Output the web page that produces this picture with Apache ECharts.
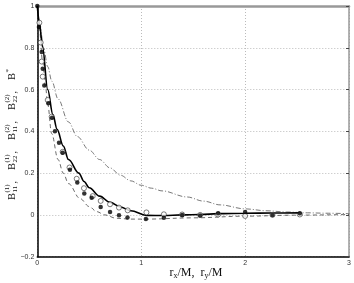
<!DOCTYPE html>
<html><head><meta charset="utf-8">
<script src="https://cdn.jsdelivr.net/npm/echarts@6/dist/echarts.min.js"></script>
<style>html,body{margin:0;padding:0;background:#fff}#c{width:354px;height:283px}</style>
</head><body><div id="c"></div>
<script>
// ---- data ----
var xTicks = [0, 1, 2, 3];
var yTicks = [-0.2, 0, 0.2, 0.4, 0.6, 0.8, 1];

var solidX = [0, 0.02, 0.05, 0.1, 0.15, 0.19, 0.25, 0.3, 0.4, 0.45, 0.5, 0.6, 0.7, 0.8, 0.9, 1.05, 1.22, 1.39, 1.57, 1.74, 2.0, 2.26, 2.53];
var solidY = [1, 0.92, 0.805, 0.6, 0.48, 0.41, 0.33, 0.265, 0.2, 0.16, 0.13, 0.09, 0.06, 0.038, 0.02, -0.002, -0.003, 0.0, 0.002, 0.006, 0.008, 0.009, 0.01];

var dashX = [0, 0.02, 0.05, 0.08, 0.1, 0.138, 0.2, 0.25, 0.3, 0.41, 0.5, 0.57, 0.65, 0.76, 0.9, 1.05, 1.5, 2.0, 2.5, 3.0];
var dashY = [1, 0.89, 0.74, 0.61, 0.53, 0.39, 0.265, 0.2, 0.15, 0.079, 0.04, 0.016, 0.0, -0.016, -0.02, -0.02, -0.014, -0.006, -0.001, 0.002];

var dashDotX = [0, 0.03, 0.06, 0.1, 0.14, 0.2, 0.3, 0.385, 0.5, 0.6, 0.7, 0.8, 0.9, 1.0, 1.1, 1.2, 1.44, 1.6, 1.76, 2.0, 2.2, 2.4, 2.6, 2.8, 3.0];
var dashDotY = [1, 0.89, 0.8, 0.71, 0.64, 0.555, 0.445, 0.375, 0.31, 0.265, 0.225, 0.19, 0.163, 0.142, 0.128, 0.115, 0.086, 0.066, 0.048, 0.029, 0.02, 0.014, 0.01, 0.008, 0.006];

var filledX = [0, 0.016, 0.042, 0.052, 0.067, 0.106, 0.142, 0.17, 0.209, 0.244, 0.314, 0.385, 0.452, 0.523, 0.61, 0.70, 0.786, 0.868, 1.045, 1.218, 1.394, 1.567, 1.74, 2.0, 2.263, 2.526];
var filledY = [1.0, 0.90, 0.78, 0.70, 0.62, 0.534, 0.465, 0.40, 0.345, 0.297, 0.216, 0.155, 0.103, 0.082, 0.038, 0.014, -0.002, -0.012, -0.019, -0.013, 0.0, -0.003, 0.008, 0.014, 0.0, 0.008];

var openX = [0.02, 0.033, 0.042, 0.052, 0.1, 0.138, 0.244, 0.31, 0.379, 0.449, 0.533, 0.61, 0.70, 0.786, 0.87, 1.05, 1.218, 1.394, 1.567, 1.74, 2.0, 2.263, 2.526];
var openY = [0.92, 0.825, 0.734, 0.662, 0.55, 0.47, 0.302, 0.227, 0.173, 0.128, 0.09, 0.067, 0.051, 0.035, 0.022, 0.012, 0.003, 0.002, 0.0, 0.002, -0.005, 0.0, 0.002];

function zip(a, b) { return a.map(function (v, i) { return [v, b[i]]; }); }

var serif = 'Liberation Serif';
var chart = echarts.init(document.getElementById('c'), null, {renderer: 'canvas'});

function fmtY(v) {
  var r = Math.round(v * 10) / 10;
  if (Math.abs(r) < 1e-9) return '0';
  if (r === 1) return '1';
  var s = Math.abs(r).toFixed(1);
  return (r < 0 ? '\u2212' : '') + s;
}

// y-axis title pieces
var yTitleChildren = [];
var groups = [['(1)', '11'], ['(1)', '22'], ['(2)', '11'], ['(2)', '22']];
var step = 30;
groups.forEach(function (g, i) {
  var x0 = i * step;
  yTitleChildren.push({type: 'text', x: x0, y: 0, style: {text: 'B', font: '10.5px ' + serif, fill: '#111', verticalAlign: 'middle'}});
  yTitleChildren.push({type: 'text', x: x0 + 7.5, y: -4.5, style: {text: g[0], font: '7px ' + serif, fill: '#111', verticalAlign: 'middle'}});
  yTitleChildren.push({type: 'text', x: x0 + 7.5, y: 3.5, style: {text: g[1], font: '7px ' + serif, fill: '#111', verticalAlign: 'middle'}});
  yTitleChildren.push({type: 'text', x: x0 + 16.5, y: 1, style: {text: ',', font: '10px ' + serif, fill: '#111', verticalAlign: 'middle'}});
});
yTitleChildren.push({type: 'text', x: 4 * step, y: 0, style: {text: 'B', font: '10.5px ' + serif, fill: '#111', verticalAlign: 'middle'}});
yTitleChildren.push({type: 'text', x: 4 * step + 7.5, y: -3.5, style: {text: '*', font: '7px ' + serif, fill: '#111', verticalAlign: 'middle'}});

var lineCommon = {smooth: 0.35, smoothMonotone: 'x', showSymbol: false};

var option = {
  animation: false,
  backgroundColor: '#fff',
  grid: {left: 37.3, right: 4.7, top: 6, bottom: 26.3, containLabel: false},
  xAxis: [{
    type: 'value', min: 0, max: 3, interval: 1, position: 'bottom',
    axisLine: {show: true, onZero: false, lineStyle: {color: '#000', width: 1.5}},
    axisTick: {show: false},
    axisLabel: {show: true, fontSize: 7, color: '#333', margin: 3, fontFamily: 'Liberation Sans'},
    splitLine: {show: true, lineStyle: {color: '#bbb', width: 1, type: [1, 2]}}
  }, {
    type: 'value', min: 0, max: 3, interval: 1, position: 'top',
    axisLine: {show: true, onZero: false, lineStyle: {color: '#999', width: 2.5}},
    axisTick: {show: false}, axisLabel: {show: false}, splitLine: {show: false}
  }],
  yAxis: [{
    type: 'value', min: -0.2, max: 1, interval: 0.2, position: 'left',
    axisLine: {show: true, onZero: false, lineStyle: {color: '#000', width: 1.5}},
    axisTick: {show: false},
    axisLabel: {show: true, fontSize: 7, color: '#333', margin: 3, fontFamily: 'Liberation Sans', formatter: fmtY},
    splitLine: {show: true, lineStyle: {color: '#bbb', width: 1, type: [1, 2]}}
  }, {
    type: 'value', min: -0.2, max: 1, interval: 0.2, position: 'right',
    axisLine: {show: true, onZero: false, lineStyle: {color: '#999', width: 1.5}},
    axisTick: {show: true, inside: true, length: 3, lineStyle: {color: '#444', width: 1}},
    axisLabel: {show: false}, splitLine: {show: false}
  }],
  series: [Object.assign({
    type: 'line', name: 'dashdot', data: zip(dashDotX, dashDotY),
    lineStyle: {color: '#555', width: 0.8, type: [5, 2, 1, 2]}, z: 2
  }, lineCommon), Object.assign({
    type: 'line', name: 'dashed', data: zip(dashX, dashY),
    lineStyle: {color: '#444', width: 0.8, type: [4, 3]}, z: 2
  }, lineCommon), Object.assign({
    type: 'line', name: 'solid', data: zip(solidX, solidY),
    lineStyle: {color: '#000', width: 1.6}, z: 3
  }, lineCommon), {
    type: 'scatter', name: 'open', data: zip(openX, openY), symbol: 'circle', symbolSize: 5,
    itemStyle: {color: '#fff', borderColor: '#333', borderWidth: 0.8}, z: 4
  }, {
    type: 'scatter', name: 'filled', data: zip(filledX, filledY), symbol: 'circle', symbolSize: 4.5,
    itemStyle: {color: '#000'}, z: 5
  }],
  graphic: [{
    type: 'group', x: 12, y: 200, rotation: Math.PI / 2, children: yTitleChildren
  }, {
    type: 'text', x: 196, y: 273,
    style: {
      text: '{n|r}{s|x}{n|/M,  r}{s|y}{n|/M}',
      align: 'center', verticalAlign: 'middle',
      rich: {
        n: {fontFamily: serif, fontSize: 12, fill: '#111', lineHeight: 14, verticalAlign: 'middle'},
        s: {fontFamily: serif, fontSize: 8, fill: '#111', lineHeight: 6, verticalAlign: 'bottom'}
      }
    }
  }]
};
chart.setOption(option);
</script></body></html>
